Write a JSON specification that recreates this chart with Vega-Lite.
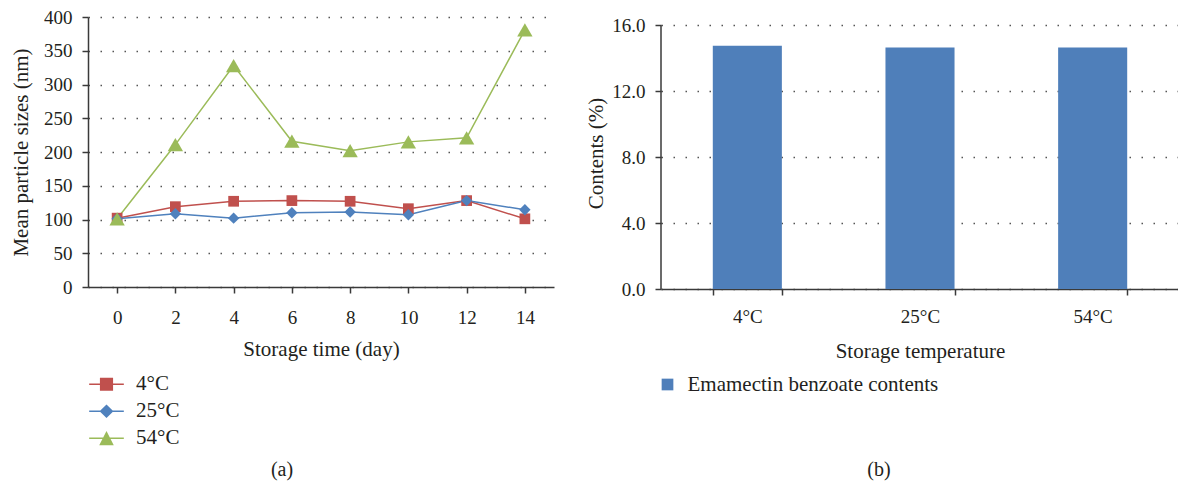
{
  "$schema": "https://vega.github.io/schema/vega-lite/v6.json",
  "padding": {"left": 10, "top": 8, "right": 0, "bottom": 0},
  "config": {
    "font": "Liberation Serif",
    "view": {"stroke": null},
    "axis": {
      "domainColor": "#3a3a3a", "domainWidth": 1.5,
      "tickColor": "#3a3a3a", "tickWidth": 1.5, "tickSize": 6,
      "labelFont": "Liberation Serif", "labelFontSize": 19, "labelColor": "#231f20",
      "titleFont": "Liberation Serif", "titleFontSize": 21, "titleFontWeight": "normal", "titleColor": "#231f20",
      "gridColor": "#555555", "gridDash": [1.5, 10.5], "gridWidth": 1.3
    },
    "legend": {"labelFont": "Liberation Serif", "labelFontSize": 21, "labelColor": "#231f20", "labelLimit": 500},
    "title": {"font": "Liberation Serif", "fontWeight": "normal", "color": "#231f20", "fontSize": 20}
  },
  "resolve": {"scale": {"color": "independent", "shape": "independent", "x": "independent", "y": "independent"}, "legend": {"color": "independent", "shape": "independent"}},
  "vconcat": [
    {
      "spacing": 31,
      "resolve": {"scale": {"color": "independent", "shape": "independent", "x": "independent", "y": "independent"}, "legend": {"color": "independent", "shape": "independent"}},
      "hconcat": [
        {
          "width": 466,
          "height": 270,
          "data": {"values": [
            {"day": 0, "series": "4°C", "size": 102},
            {"day": 2, "series": "4°C", "size": 119},
            {"day": 4, "series": "4°C", "size": 127},
            {"day": 6, "series": "4°C", "size": 128},
            {"day": 8, "series": "4°C", "size": 127},
            {"day": 10, "series": "4°C", "size": 116},
            {"day": 12, "series": "4°C", "size": 128},
            {"day": 14, "series": "4°C", "size": 101},
            {"day": 0, "series": "25°C", "size": 101},
            {"day": 2, "series": "25°C", "size": 108.5},
            {"day": 4, "series": "25°C", "size": 102},
            {"day": 6, "series": "25°C", "size": 110},
            {"day": 8, "series": "25°C", "size": 111},
            {"day": 10, "series": "25°C", "size": 107},
            {"day": 12, "series": "25°C", "size": 128},
            {"day": 14, "series": "25°C", "size": 114.5},
            {"day": 0, "series": "54°C", "size": 101},
            {"day": 2, "series": "54°C", "size": 211},
            {"day": 4, "series": "54°C", "size": 328},
            {"day": 6, "series": "54°C", "size": 216},
            {"day": 8, "series": "54°C", "size": 202},
            {"day": 10, "series": "54°C", "size": 215},
            {"day": 12, "series": "54°C", "size": 221},
            {"day": 14, "series": "54°C", "size": 381}
          ]},
          "encoding": {
            "x": {"field": "day", "type": "quantitative",
              "scale": {"domain": [-1, 15], "nice": false, "zero": false},
              "axis": {"values": [0, 2, 4, 6, 8, 10, 12, 14], "title": "Storage time (day)", "grid": false, "labelPadding": 15, "titlePadding": 11, "labelFlush": false}},
            "y": {"field": "size", "type": "quantitative",
              "scale": {"domain": [0, 400], "nice": false},
              "axis": {"values": [0, 50, 100, 150, 200, 250, 300, 350, 400], "title": "Mean particle sizes (nm)", "grid": true, "labelPadding": 10, "titlePadding": 12}}
          },
          "layer": [
            {
              "mark": {"type": "point", "filled": true, "opacity": 0},
              "encoding": {
                "color": {"field": "series", "type": "nominal",
                  "scale": {"domain": ["4°C", "25°C", "54°C"], "range": ["#C0504D", "#4F81BD", "#9BBB59"]},
                  "legend": {"title": null, "orient": "bottom", "direction": "vertical", "symbolSize": 1200, "symbolOpacity": 1, "labelOffset": 11, "rowPadding": 0, "clipHeight": 26.5, "offset": 12}},
                "shape": {"field": "series", "type": "nominal",
                  "scale": {"domain": ["4°C", "25°C", "54°C"], "range": [
                    "M-1,-0.05H1V0.05H-1Z M-0.38,-0.37H0.38V0.37H-0.38Z",
                    "M-1,-0.05H1V0.05H-1Z M0,-0.39L0.4,0L0,0.39L-0.4,0Z",
                    "M-1,-0.05H1V0.05H-1Z M0,-0.42L0.42,0.4L-0.42,0.4Z"
                  ]},
                  "legend": {"title": null, "orient": "bottom", "direction": "vertical", "symbolSize": 1200, "symbolOpacity": 1, "labelOffset": 11, "rowPadding": 0, "clipHeight": 26.5, "offset": 12}}
              }
            },
            {
              "mark": {"type": "line", "strokeWidth": 1.5},
              "encoding": {"stroke": {"field": "series", "type": "nominal", "scale": {"domain": ["4°C", "25°C", "54°C"], "range": ["#C0504D", "#4F81BD", "#9BBB59"]}, "legend": null}}
            },
            {
              "transform": [{"filter": "datum.series === '4°C'"}],
              "mark": {"type": "point", "filled": true, "shape": "square", "size": 115, "opacity": 1},
              "encoding": {"fill": {"field": "series", "type": "nominal", "scale": {"domain": ["4°C", "25°C", "54°C"], "range": ["#C0504D", "#4F81BD", "#9BBB59"]}, "legend": null}}
            },
            {
              "transform": [{"filter": "datum.series === '25°C'"}],
              "mark": {"type": "point", "filled": true, "shape": "diamond", "size": 130, "opacity": 1},
              "encoding": {"fill": {"field": "series", "type": "nominal", "legend": null}}
            },
            {
              "transform": [{"filter": "datum.series === '54°C'"}],
              "mark": {"type": "point", "filled": true, "shape": "triangle-up", "size": 235, "opacity": 1},
              "encoding": {"fill": {"field": "series", "type": "nominal", "legend": null}}
            }
          ]
        },
        {
          "width": 518,
          "height": 272,
          "data": {"values": [
            {"temp": "4°C", "content": 14.75, "label": "Emamectin benzoate contents"},
            {"temp": "25°C", "content": 14.65, "label": "Emamectin benzoate contents"},
            {"temp": "54°C", "content": 14.65, "label": "Emamectin benzoate contents"}
          ]},
          "encoding": {
            "x": {"field": "temp", "type": "nominal", "sort": null,
              "scale": {"paddingInner": 0.6, "paddingOuter": 0.3},
              "axis": {"labelAngle": 0, "tickBand": "extent", "title": "Storage temperature", "labelPadding": 12.5, "titlePadding": 14}},
            "y": {"type": "quantitative",
              "scale": {"domain": [0, 16.5], "nice": false},
              "axis": {"values": [0, 4, 8, 12, 16], "format": ".1f", "title": "Contents (%)", "grid": true, "domain": false, "labelPadding": 10, "titlePadding": 5}}
          },
          "layer": [
            {
              "mark": {"type": "bar"},
              "encoding": {
                "y": {"field": "content", "type": "quantitative"},
                "color": {"field": "label", "type": "nominal", "scale": {"range": ["#4F7FBA"]},
                  "legend": {"title": null, "orient": "bottom", "direction": "vertical", "symbolType": "square", "symbolSize": 137, "symbolOffset": -4, "labelOffset": 9.5, "offset": 12, "padding": 0}}
              }
            },
            {
              "transform": [{"filter": "datum.temp === '4°C'"}],
              "mark": {"type": "rule", "color": "#3a3a3a", "strokeWidth": 1.5},
              "encoding": {
                "x": {"field": "temp", "type": "nominal", "bandPosition": -0.75},
                "y": {"datum": 0},
                "y2": {"datum": 16}
              }
            }
          ]
        }
      ]
    },
    {
      "spacing": 203,
      "hconcat": [
        {
          "width": 388, "height": 1,
          "data": {"values": []},
          "mark": {"type": "rule"},
          "encoding": {},
          "title": {"text": "(a)", "orient": "top", "anchor": "middle", "offset": 0}
        },
        {
          "width": 400, "height": 1,
          "data": {"values": []},
          "mark": {"type": "rule"},
          "encoding": {},
          "title": {"text": "(b)", "orient": "top", "anchor": "middle", "offset": 0}
        }
      ]
    }
  ],
  "spacing": 8
}
